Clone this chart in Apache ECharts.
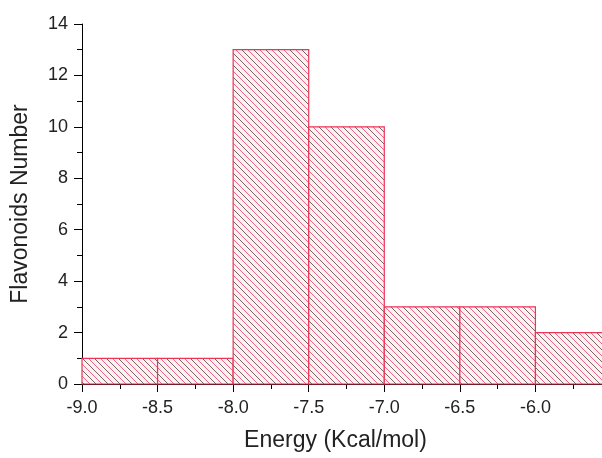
<!DOCTYPE html>
<html>
<head>
<meta charset="utf-8">
<script src="https://cdn.jsdelivr.net/npm/echarts@6/dist/echarts.min.js"></script>
<style>
  html, body { margin: 0; padding: 0; background: #fff; }
  #chart { width: 602px; height: 458px; }
</style>
</head>
<body>
<div id="chart"></div>
<script>
// histogram bins (left edges, Kcal/mol) and counts
var binStart = [-9.0, -8.5, -8.0, -7.5, -7.0, -6.5, -6.0];
var binWidth = 0.5;
var counts = [1, 1, 13, 10, 3, 3, 2];
var xTicks = [-9.0, -8.5, -8.0, -7.5, -7.0, -6.5, -6.0];

// hatch tile: "\" lines, alternating dark / red
function makeHatch() {
  var c = document.createElement('canvas');
  c.width = 12; c.height = 12;
  var g = c.getContext('2d');
  g.fillStyle = '#fdf1f3';
  g.fillRect(0, 0, 12, 12);
  g.lineWidth = 1;
  var lines = [[0, 'rgba(60,35,40,0.7)'], [6, 'rgba(235,70,100,0.8)']];
  lines.forEach(function (l) {
    g.strokeStyle = l[1];
    [l[0] - 12, l[0], l[0] + 12].forEach(function (k) {
      g.beginPath();
      g.moveTo(k, 0);
      g.lineTo(k + 12, 12);
      g.stroke();
    });
  });
  return c;
}

var chart = echarts.init(document.getElementById('chart'));
var hatch = { image: makeHatch(), repeat: 'repeat' };

var data = binStart.map(function (s, i) { return [s, s + binWidth, counts[i]]; });

chart.setOption({
  animation: false,
  grid: { left: 82, top: 24, width: 529, height: 360, outerBoundsMode: 'none' },
  xAxis: {
    type: 'value',
    min: -9.0,
    max: -5.5,
    interval: 0.5,
    name: 'Energy (Kcal/mol)',
    nameLocation: 'middle',
    nameGap: 45,
    nameTextStyle: { fontFamily: 'Liberation Sans', fontSize: 23, color: '#222', padding: [0, 22, 0, 0] },
    axisLine: { lineStyle: { color: '#000', width: 1 } },
    axisTick: { length: 8, lineStyle: { color: '#000' } },
    minorTick: { show: true, splitNumber: 2, length: 5, lineStyle: { color: '#000' } },
    splitLine: { show: false },
    axisLabel: {
      fontFamily: 'Liberation Sans', fontSize: 18, color: '#222', margin: 15,
      formatter: function (v) { return xTicks.indexOf(v) >= 0 ? v.toFixed(1) : ''; }
    }
  },
  yAxis: {
    type: 'value',
    min: 0,
    max: 14,
    interval: 2,
    name: 'Flavonoids Number',
    nameLocation: 'middle',
    nameGap: 50,
    nameTextStyle: { fontFamily: 'Liberation Sans', fontSize: 23, color: '#222' },
    axisLine: { show: true, lineStyle: { color: '#000', width: 1 } },
    axisTick: { show: true, length: 8, lineStyle: { color: '#000' } },
    minorTick: { show: true, splitNumber: 2, length: 5, lineStyle: { color: '#000' } },
    splitLine: { show: false },
    axisLabel: { fontFamily: 'Liberation Sans', fontSize: 18, color: '#222', margin: 14 }
  },
  series: [{
    type: 'custom',
    data: data,
    encode: { x: [0, 1], y: 2 },
    renderItem: function (params, api) {
      var p0 = api.coord([api.value(0), api.value(2)]);
      var p1 = api.coord([api.value(1), 0]);
      return {
        type: 'rect',
        shape: { x: p0[0], y: p0[1], width: p1[0] - p0[0], height: p1[1] - p0[1] },
        style: { fill: hatch, stroke: '#ea3556', lineWidth: 1.2 }
      };
    }
  }]
});
</script>
</body>
</html>
